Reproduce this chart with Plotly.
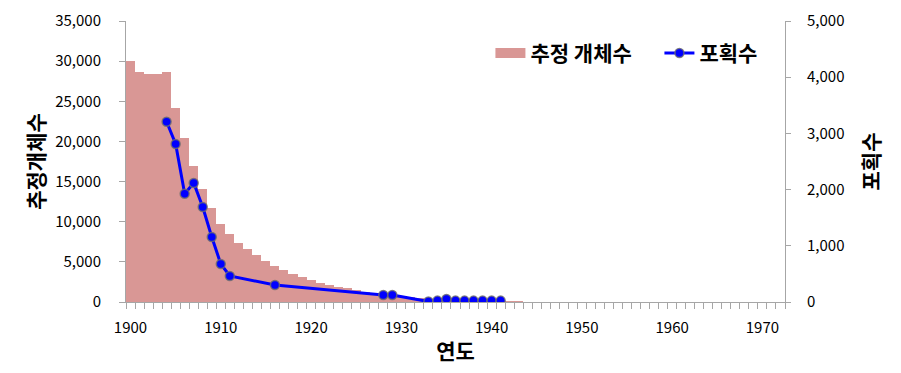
import plotly.graph_objects as go

# Estimated population (left axis), 1900-1943
pop_years = list(range(1900, 1944))
pop_values = [30000, 28700, 28400, 28400, 28600, 24200, 20400, 17000, 14100, 11750,
              9700, 8500, 7400, 6550, 5850, 5150, 4500, 4000, 3500, 3070,
              2740, 2400, 2100, 1900, 1700, 1500, 1280, 1150, 1000, 850,
              700, 600, 500, 400, 300, 250, 200, 200, 150, 150,
              120, 100, 100, 80]

# Catch counts (right axis)
catch_years = [1904, 1905, 1906, 1907, 1908, 1909, 1910, 1911, 1916, 1928, 1929,
               1933, 1934, 1935, 1936, 1937, 1938, 1939, 1940, 1941]
catch_values = [3208, 2811, 1927, 2117, 1690, 1157, 676, 463, 302, 125, 125,
                8, 25, 55, 25, 25, 25, 25, 25, 25]

x_tick_vals = [1900, 1910, 1920, 1930, 1940, 1950, 1960, 1970]
x_tick_text = ["1900", "1910", "1920", "1930", "1940", "1950", "1960", "1970"]

FONT = "Noto Sans CJK KR"
AXIS_GREY = "#A6A6A6"
BAR_COLOR = "#D99795"

fig = go.Figure()
fig.add_trace(go.Bar(
    x=pop_years, y=pop_values, width=1.0,
    name="추정 개체수", showlegend=False,
    marker=dict(color=BAR_COLOR, line=dict(width=0)),
    yaxis="y",
))
# legend proxy for the bar series (wide swatch like the reference)
fig.add_trace(go.Scatter(
    x=[None], y=[None], mode="lines", name="추정 개체수",
    line=dict(color=BAR_COLOR, width=10), yaxis="y", hoverinfo="skip",
))
fig.add_trace(go.Scatter(
    x=catch_years, y=catch_values,
    name="포획수", mode="lines+markers",
    line=dict(color="#0000FF", width=3),
    marker=dict(color="#0000FF", size=9, line=dict(color="rgba(110,110,110,0.8)", width=1.5)),
    yaxis="y2",
))

fig.update_layout(
    width=901, height=373,
    margin=dict(l=118, r=124, t=13, b=79, autoexpand=False),
    paper_bgcolor="white", plot_bgcolor="white",
    font=dict(family=FONT, size=15, color="#000000"),
    bargap=0,
    showlegend=True,
    legend=dict(orientation="h", x=0.553, xanchor="left", y=0.885, yanchor="middle",
                font=dict(family=FONT, size=21, color="#000000", weight="bold"),
                entrywidth=124, entrywidthmode="pixels",
                bgcolor="rgba(0,0,0,0)", tracegroupgap=0),
    xaxis=dict(
        range=[1899.5, 1972.5],
        tickmode="array", tickvals=x_tick_vals, ticktext=x_tick_text,
        ticks="", showgrid=False, zeroline=False,
        showline=True, linecolor=AXIS_GREY, linewidth=1,
        tickfont=dict(family=FONT, size=15),
        ticklabelstandoff=12,
        minor=dict(ticks="outside", tick0=1899.5, dtick=1, ticklen=6,
                   tickcolor=AXIS_GREY, tickwidth=1, showgrid=False),
        title=dict(text="연도", font=dict(family=FONT, size=21, weight="bold"), standoff=8),
    ),
    yaxis=dict(
        range=[0, 35000], tickmode="linear", tick0=0, dtick=5000,
        tickformat=",", showgrid=False, zeroline=False,
        showline=True, linecolor=AXIS_GREY, linewidth=1,
        ticks="outside", ticklen=6, tickcolor=AXIS_GREY,
        ticklabelstandoff=15,
        tickfont=dict(family=FONT, size=15),
        title=dict(text="추정개체수", font=dict(family=FONT, size=21, weight="bold"), standoff=4),
    ),
    yaxis2=dict(
        range=[0, 5000], tickmode="linear", tick0=0, dtick=1000,
        tickformat=",", showgrid=False, zeroline=False,
        overlaying="y", side="right",
        showline=True, linecolor=AXIS_GREY, linewidth=1,
        ticks="outside", ticklen=5, tickcolor=AXIS_GREY,
        ticklabelstandoff=13,
        tickfont=dict(family=FONT, size=15),
        title=dict(text="포획수", font=dict(family=FONT, size=21, weight="bold"), standoff=20),
    ),
)

fig.write_html("out.html")
